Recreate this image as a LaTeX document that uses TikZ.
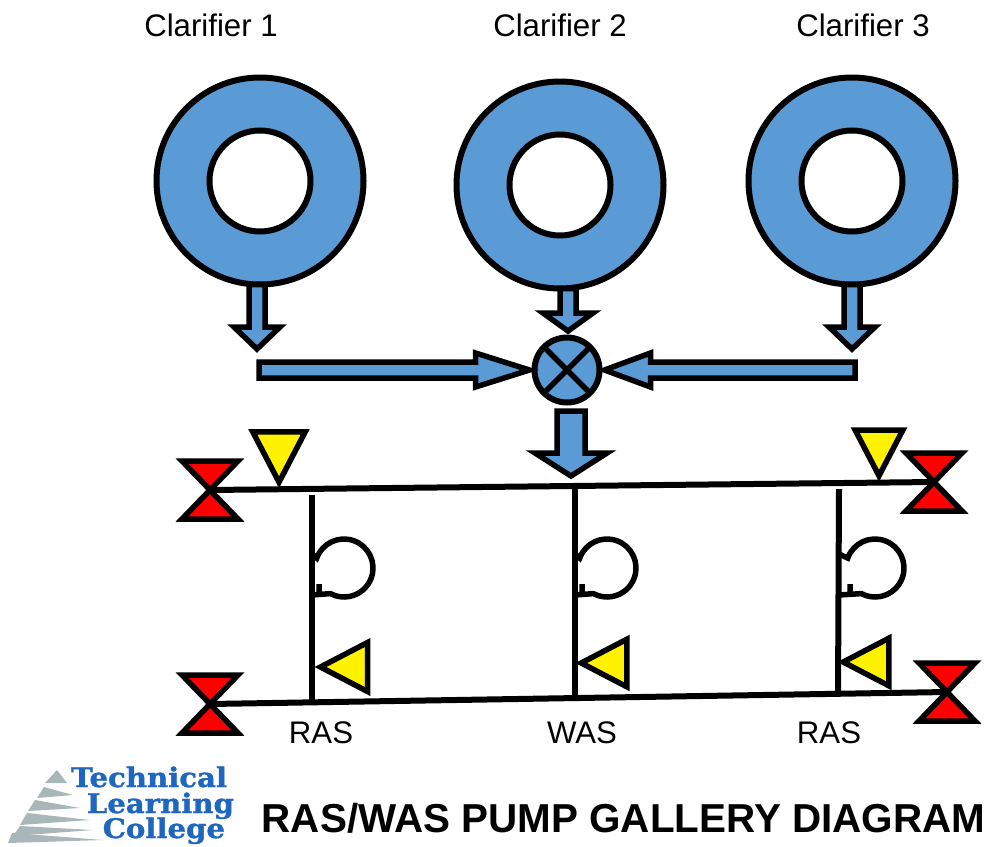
\documentclass[tikz,border=0pt]{standalone}
\usepackage{fontspec}
\setmainfont{Liberation Sans}
\newfontfamily\logofont[FakeStretch=1.08, FakeBold=1.2]{DejaVu Serif}
\usetikzlibrary{calc}
\definecolor{pipeblue}{HTML}{5B9BD5}
\definecolor{logoblue}{HTML}{1F66C1}
\definecolor{logogray}{HTML}{A9B7BA}

\begin{document}
\begin{tikzpicture}[
    x=1pt, y=-1pt,
    line join=miter,
    every node/.style={inner sep=0pt, outer sep=0pt},
    clarifier/.style={circle, draw=black, fill=pipeblue, line width=6pt,
                      minimum size=207pt},
    centerwell/.style={circle, draw=black, fill=white, line width=6pt,
                       minimum size=101pt},
    mixer/.style={circle, draw=black, fill=pipeblue, line width=6pt,
                  minimum size=65pt},
    label/.style={font=\fontsize{31.2}{33}\selectfont, text=black},
    logotext/.style={font=\logofont\bfseries\fontsize{27}{28}\selectfont,
                     text=logoblue},
    header/.style={draw=black, line width=6pt},
    pipe/.style={draw=black, fill=pipeblue, line width=5.5pt,
      to path={
        ($(\tikztostart)!#1!90:(\tikztotarget)$)
        -- ($(\tikztotarget)!\headlen!(\tikztostart)!#1!90:(\tikztotarget)$)
        -- ($(\tikztotarget)!\headlen!(\tikztostart)!\headwid!90:(\tikztotarget)$)
        -- (\tikztotarget)
        -- ($(\tikztotarget)!\headlen!(\tikztostart)!\headwid!-90:(\tikztotarget)$)
        -- ($(\tikztotarget)!\headlen!(\tikztostart)!#1!-90:(\tikztotarget)$)
        -- ($(\tikztostart)!#1!-90:(\tikztotarget)$) -- cycle}},
    valve/.pic={
      \draw[draw=black, fill=red, line width=5.5pt, miter limit=3]
        (-28,-29) -- (28,-29) -- (0,0) -- cycle
        (-28,29) -- (28,29) -- (0,0) -- cycle;},
    sensor/.pic={
      \draw[draw=black, fill=yellow, line width=5.5pt]
        (-25,-24) -- (25,-24) -- (0,24) -- cycle;},
    pump/.pic={
      \draw[draw=black, line width=5.5pt]
        (#1,-14) -- (-160:29) arc (-160:118:29) -- (#1,27)
        (-25,16) -- (-25,27);},
  ]
  \useasboundingbox (0,0) rectangle (987,846);
  \fill[white] (0,0) rectangle (987,846);

  %% --- clarifiers --------------------------------------------------------
  \node[clarifier]  (clarA) at (260,181) {};
  \node[clarifier]  (clarB) at (560,185) {};
  \node[clarifier]  (clarC) at (852,181) {};
  \node[centerwell] (wellA) at (260,181) {};
  \node[centerwell] (wellB) at (560,185) {};
  \node[centerwell] (wellC) at (852,181) {};
  \node[label] (nameA) at (211,25) {Clarifier 1};
  \node[label] (nameB) at (560,25) {Clarifier 2};
  \node[label] (nameC) at (863,25) {Clarifier 3};

  %% --- mixing chamber ----------------------------------------------------
  \node[mixer] (mix) at (567,370) {};
  \draw[line width=5.5pt] (mix.north west) -- (mix.south east);
  \draw[line width=5.5pt] (mix.north east) -- (mix.south west);

  %% --- free ends of the block arrows and headers -------------------------
  \coordinate (tipA)  at (257,349);
  \coordinate (tipB)  at (568,331);
  \coordinate (tipC)  at (852,349);
  \coordinate (tailL) at (259,370);
  \coordinate (tailR) at (855,370);
  \coordinate (tailD) at (571,411);
  \coordinate (tipD)  at (571,476);
  \coordinate (valveTL) at (210,490);
  \coordinate (valveTR) at (934,482);
  \coordinate (valveBL) at (210,704);
  \coordinate (valveBR) at (947,692);
  \coordinate (riserTA) at (312,495);
  \coordinate (riserTB) at (575,485);
  \coordinate (riserTC) at (839,489);
  \coordinate (riserBA) at (312,703);
  \coordinate (riserBB) at (575,699);
  \coordinate (riserBC) at (838,695);

  %% --- block arrows ------------------------------------------------------
  \def\headlen{22pt}\def\headwid{23pt}
  \draw[pipe=8pt] (clarA.south -| tipA) to (tipA);
  \draw[pipe=8pt] (clarC.south -| tipC) to (tipC);
  \def\headlen{54pt}\def\headwid{17pt}
  \draw[pipe=8pt] (tailL) to ([xshift=-5pt]mix.west);
  \def\headlen{46pt}\def\headwid{17pt}
  \draw[pipe=8pt] (tailR) to ([xshift=5pt]mix.east);
  \def\headlen{18pt}\def\headwid{25pt}
  \draw[pipe=8pt] (clarB.south -| tipB) to (tipB);
  \def\headlen{23pt}\def\headwid{36pt}
  \draw[pipe=14pt] (tailD) to (tipD);

  %% --- headers and pump risers -------------------------------------------
  \draw[header] (valveTL) -- (valveTR);
  \draw[header] (valveBL) -- (valveBR);
  \draw[header] (riserTA) -- (riserBA);
  \draw[header] (riserTB) -- (riserBB);
  \draw[header] (riserTC) -- (riserBC);

  %% --- valves, sensors, pumps --------------------------------------------
  \pic at (valveTL) {valve};
  \pic at (valveTR) {valve};
  \pic at (valveBL) {valve};
  \pic at (valveBR) {valve};
  \pic[scale=1.05] at (279,457) {sensor};
  \pic[scale=0.95] at (879,453) {sensor};
  \pic[rotate=-90, scale=0.98] at (344,667) {sensor};
  \pic[rotate=-90, scale=0.95] at (604,663) {sensor};
  \pic[rotate=-90, scale=0.95] at (866,662) {sensor};
  \pic at (344,568) {pump=-32};
  \pic at (607,568) {pump=-32};
  \pic at (875,568) {pump=-36};

  %% --- labels ------------------------------------------------------------
  \node[label] (ras1) at (321,733) {RAS};
  \node[label] (was)  at (582,733) {WAS};
  \node[label] (ras2) at (829,733) {RAS};
  \node[font=\bfseries\fontsize{40.4}{42}\selectfont] (title) at (623.5,818)
    {RAS/WAS PUMP GALLERY DIAGRAM};

  %% --- logo --------------------------------------------------------------
  \fill[logogray] (57,770) -- (67,783) -- (45,783) -- cycle;
  \foreach \ya/\yb/\xl/\xm/\xt/\yt in {787/798/44/37/73/795, 800/811/35/28/80/808,
      813/825/27/20/90/820, 826/836/20/13/93/830, 833/843/12/8/103/840}
    \fill[logogray] (\xl,\ya) -- (\xt,\yt) -- (\xm,\yb) -- cycle;
  \node[logotext, anchor=base east] (logoA) at (227,787) {Technical};
  \node[logotext, anchor=base east] (logoB) at (234,813) {Learning};
  \node[logotext, anchor=base east] (logoC) at (225,838) {College};

\end{tikzpicture}
\end{document}
